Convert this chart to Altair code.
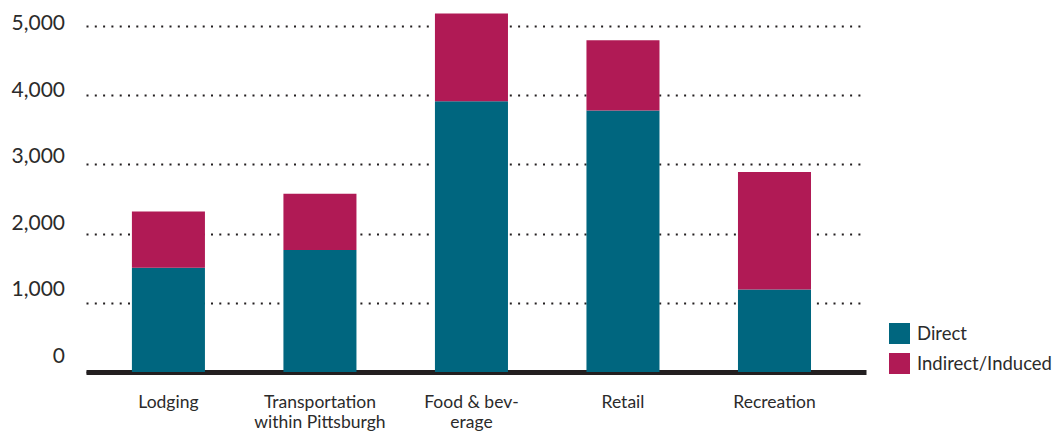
import altair as alt
import pandas as pd

categories = ["Lodging", "Transportation\nwithin Pittsburgh", "Food & bev-\nerage", "Retail", "Recreation"]
direct = [1506, 1764, 3910, 3777, 1192]
indirect = [812, 811, 1269, 1016, 1698]
series = ["Direct", "Indirect/Induced"]
colors = ["#00667F", "#B01A55"]
y_ticks = [0, 1000, 2000, 3000, 4000, 5000]

rows = []
for c, d, i in zip(categories, direct, indirect):
    rows.append({"category": c, "series": series[0], "value": d, "order": 0})
    rows.append({"category": c, "series": series[1], "value": i, "order": 1})
df = pd.DataFrame(rows)
ticks_df = pd.DataFrame({"v": y_ticks, "label": [f"{v:,}" for v in y_ticks]})

FONT = "Lato"
TEXT = "#2b2b2b"

bars = alt.Chart(df).mark_bar().encode(
    x=alt.X("category:N", sort=categories, title=None,
            scale=alt.Scale(paddingInner=0.518, paddingOuter=0.333, align=0.455),
            axis=alt.Axis(labelExpr="split(datum.label, '\\n')", labelAngle=0,
                          labelFontSize=17.5, labelFont=FONT, labelColor=TEXT,
                          labelPadding=21, labelLineHeight=20, ticks=False,
                          domainColor="#231F20", domainWidth=5)),
    y=alt.Y("value:Q", stack="zero", title=None,
            scale=alt.Scale(domain=[0, 5200], nice=False),
            axis=alt.Axis(values=y_ticks, labels=False, ticks=False, domain=False,
                          grid=True, gridDash=[2, 6.3], gridWidth=2, gridColor="#231F20")),
    color=alt.Color("series:N", scale=alt.Scale(domain=series, range=colors),
                    legend=alt.Legend(title=None, orient="none", legendX=803, legendY=311,
                                      symbolType="square", symbolSize=441, symbolStrokeWidth=0,
                                      labelFontSize=18.5, labelFont=FONT, labelColor=TEXT,
                                      labelOffset=7, rowPadding=9, padding=0)),
    order=alt.Order("order:Q"),
)

ylabels = alt.Chart(ticks_df).mark_text(align="right", baseline="middle", fontSize=21,
                                         font=FONT, color=TEXT).encode(
    x=alt.value(-21),
    y=alt.Y("v:Q", scale=alt.Scale(domain=[-225, 5180], nice=False, zero=False), axis=None),
    text="label:N",
)

chart = alt.layer(bars, ylabels).resolve_scale(y="independent").properties(
    width=780, height=360,
    autosize=alt.AutoSizeParams(type="none"),
    padding={"left": 78, "top": 4, "right": 189, "bottom": 59},
).configure(background="white").configure_view(stroke=None)

chart.save("out.html", embed_options={"renderer": "svg", "actions": False})
